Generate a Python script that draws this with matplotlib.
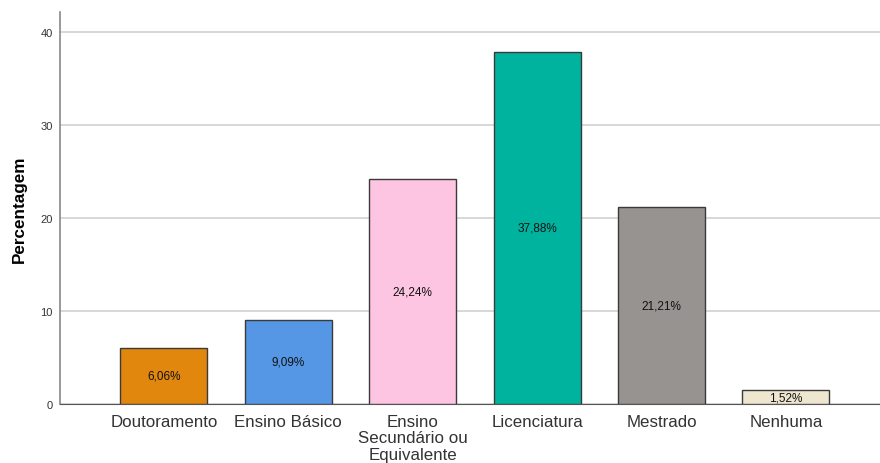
import matplotlib
matplotlib.use("Agg")
import matplotlib.pyplot as plt
import numpy as np

plt.rcParams['font.family'] = ['Liberation Sans', 'DejaVu Sans']

categorias = ["Doutoramento", "Ensino Básico", "Ensino\nSecundário ou\nEquivalente",
              "Licenciatura", "Mestrado", "Nenhuma"]
percentagens = [6.06, 9.09, 24.24, 37.88, 21.21, 1.52]
cores = ["#E1870E", "#5597E5", "#FEC5E2", "#00B39E", "#979391", "#EEE6CF"]

fig = plt.figure(figsize=(8.8, 4.64), dpi=100)
ax = fig.add_axes([0.068, 0.127, 0.932, 0.845])

x = np.arange(len(categorias))
barras = ax.bar(x, percentagens, width=0.70, color=cores, edgecolor="#3a3a3a",
                linewidth=1.0, zorder=3)

for b, v in zip(barras, percentagens):
    ax.text(b.get_x() + b.get_width() / 2, v / 2, f"{v:.2f}%".replace(".", ","),
            ha="center", va="center", fontsize=8.5, color="#111111", zorder=4)

ax.set_xlim(-0.836, 5.756)
ax.set_ylim(0, 42.15)
ax.set_yticks([0, 10, 20, 30, 40])
ax.yaxis.grid(True, color="#d4d4d4", linewidth=1.3, zorder=0)
ax.set_axisbelow(True)

ax.set_xticks(x)
ax.set_xticklabels(categorias, fontsize=12.2, color="#333333", linespacing=1.12)
ax.tick_params(axis="x", length=0, pad=7)
ax.tick_params(axis="y", length=0, labelsize=8, colors="#333333", pad=5)

ax.set_ylabel("Percentagem", fontsize=12.3, fontweight="bold", labelpad=9.5)

for s in ["top", "right"]:
    ax.spines[s].set_visible(False)
ax.spines["left"].set_color("#888888")
ax.spines["bottom"].set_color("#555555")
ax.spines["left"].set_linewidth(1.2)

fig.savefig("out.png", dpi=100)
